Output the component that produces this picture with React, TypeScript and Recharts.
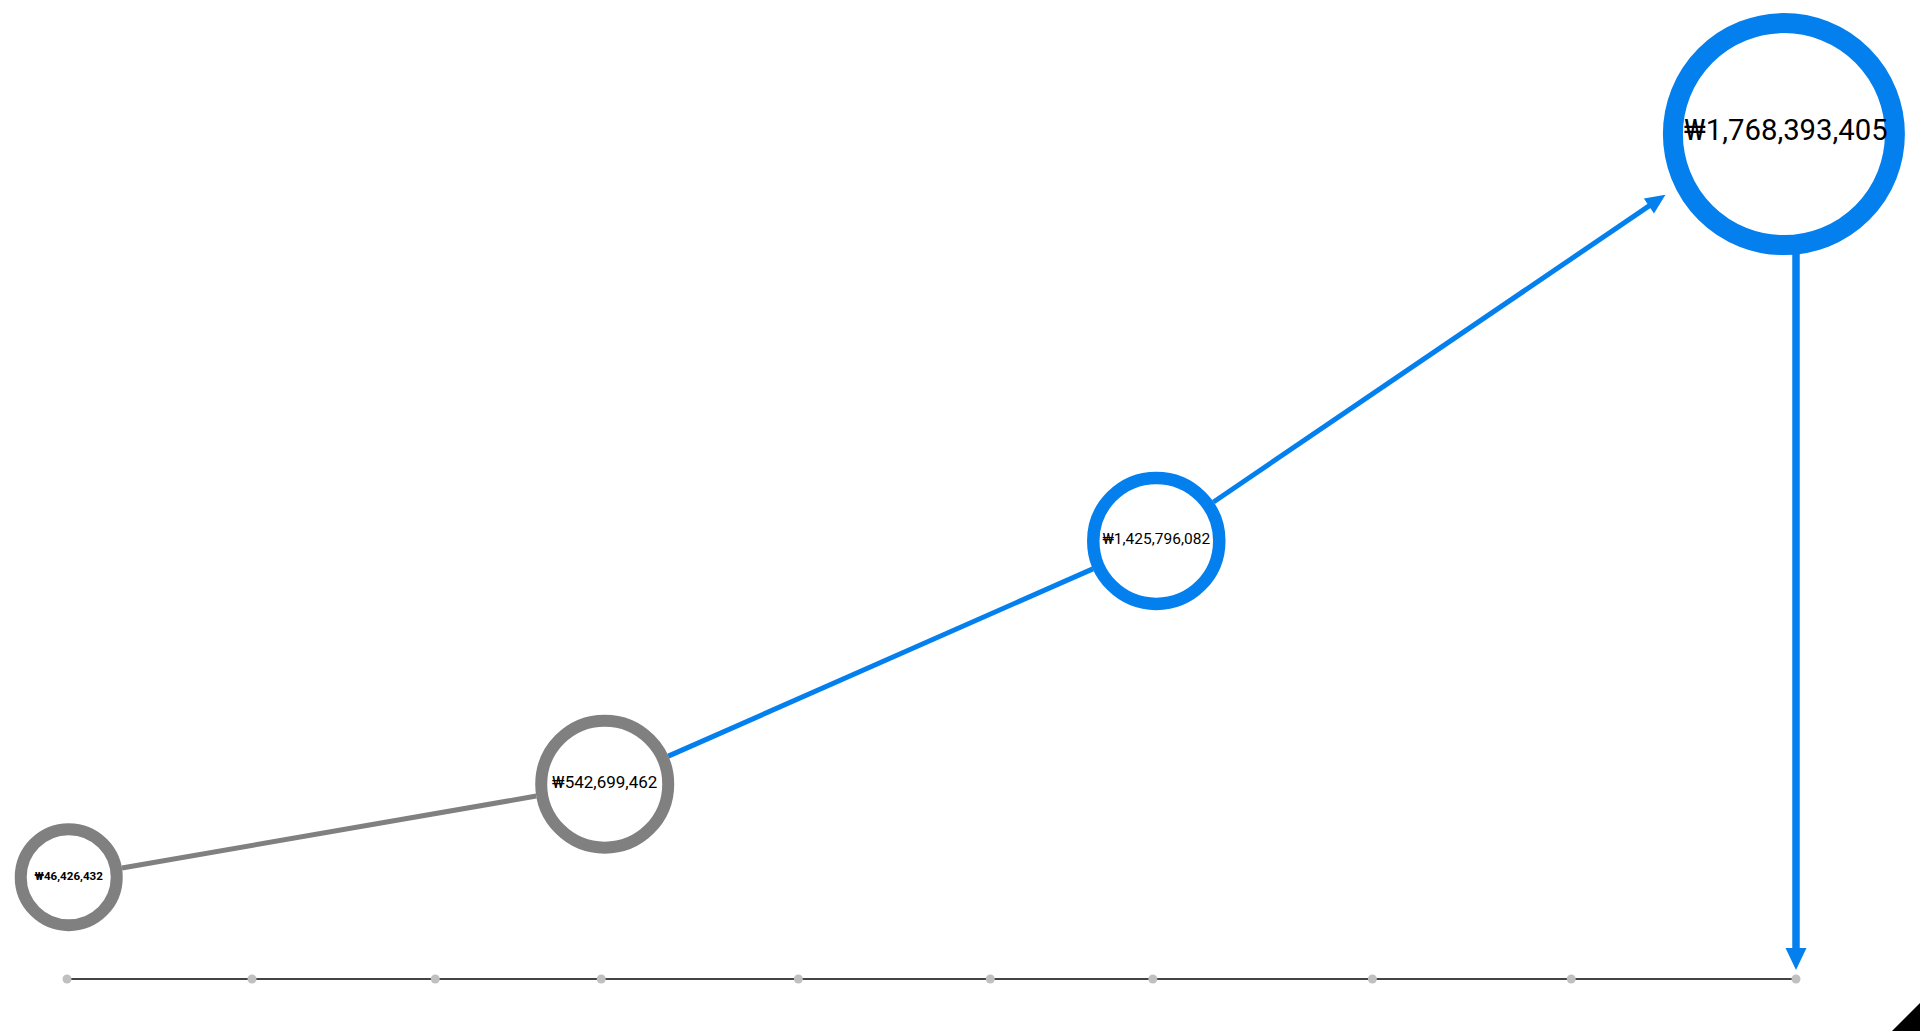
import { ComposedChart, XAxis, YAxis, Scatter, ReferenceLine } from "recharts";

// timeline ticks (percent of the axis span) and the four milestones
const tickPositions = [0, 10.7, 21.3, 30.9, 42.3, 53.4, 62.8, 75.5, 87.0, 100];
const pointX = [0.1, 31.1, 63.0, 99.3];
const pointLevel = [10.4, 19.9, 44.75, 86.3];
const pointValue = [46426432, 542699462, 1425796082, 1768393405];
// tip of the growth arrow and the x of the drop line
const arrowTip = { x: 92.45, y: 80.1 };
const arrowX = 100;

const GRAY = "#808080";
const BLUE = "#0480ee";

const ringStyles = [
  { r: 48, sw: 12, color: GRAY, font: 11.6, weight: 700 },
  { r: 63.5, sw: 12, color: GRAY, font: 17, weight: 400 },
  { r: 63, sw: 12.5, color: BLUE, font: 15.5, weight: 400 },
  { r: 111, sw: 20, color: BLUE, font: 29.3, weight: 400 },
];
const outer = (i: number) => ringStyles[i].r + ringStyles[i].sw / 2;

const points = pointX.map((x, i) => ({ x, y: pointLevel[i], value: pointValue[i], idx: i }));

const fmt = (v: number) => "₩" + v.toLocaleString("en-US");

function segment(startCut: number, endCut: number, color: string, width: number, head?: { len: number; half: number }) {
  return (props: any) => {
    const { x1, y1, x2, y2 } = props;
    const dx = x2 - x1;
    const dy = y2 - y1;
    const d = Math.hypot(dx, dy) || 1;
    const ux = dx / d;
    const uy = dy / d;
    const sx = x1 + ux * startCut;
    const sy = y1 + uy * startCut;
    const ex = x2 - ux * endCut;
    const ey = y2 - uy * endCut;
    if (!head) {
      return <line x1={sx} y1={sy} x2={ex} y2={ey} stroke={color} strokeWidth={width} />;
    }
    const bx = ex - ux * head.len;
    const by = ey - uy * head.len;
    const px = -uy;
    const py = ux;
    return (
      <g>
        <line x1={sx} y1={sy} x2={bx + ux * 2} y2={by + uy * 2} stroke={color} strokeWidth={width} />
        <polygon
          points={`${ex},${ey} ${bx + px * head.half},${by + py * head.half} ${bx - px * head.half},${by - py * head.half}`}
          fill={color}
        />
      </g>
    );
  };
}

function Ring(props: any) {
  const { cx, cy, payload } = props;
  const s = ringStyles[payload.idx];
  return (
    <g>
      <circle cx={cx} cy={cy} r={s.r} fill="#fff" stroke={s.color} strokeWidth={s.sw} />
      <text
        x={cx + (payload.idx === 3 ? 2 : 0)}
        y={cy + s.font * 0.2}
        textAnchor="middle"
        fontFamily="Roboto, sans-serif"
        fontSize={s.font}
        fontWeight={s.weight}
        fill="#000"
      >
        {fmt(payload.value)}
      </text>
    </g>
  );
}

function AxisDot(props: any) {
  return <circle cx={props.x} cy={props.y} r={4.5} fill="#c0c0c0" />;
}

export default function App() {
  return (
    <div style={{ position: "relative", width: 1920, height: 1031, overflow: "hidden", background: "#fff" }}>
      <style>{`html,body{margin:0;padding:0;overflow:hidden;}`}</style>
      <ComposedChart width={1920} height={1031} margin={{ top: 0, right: 124, bottom: 22, left: 67 }}>
        <XAxis
          type="number"
          dataKey="x"
          domain={[0, 100]}
          ticks={tickPositions}
          interval={0}
          tickLine={false}
          tickSize={0}
          tickMargin={0}
          axisLine={{ stroke: "#444", strokeWidth: 2 }}
          tick={<AxisDot />}
          height={30}
        />
        <YAxis type="number" dataKey="y" domain={[0, 100]} hide />
        <ReferenceLine
          segment={[{ x: pointX[0], y: pointLevel[0] }, { x: pointX[1], y: pointLevel[1] }]}
          ifOverflow="visible"
          shape={segment(outer(0), outer(1), GRAY, 5)}
        />
        <ReferenceLine
          segment={[{ x: pointX[1], y: pointLevel[1] }, { x: pointX[2], y: pointLevel[2] }]}
          ifOverflow="visible"
          shape={segment(outer(1), outer(2), BLUE, 5)}
        />
        <ReferenceLine
          segment={[{ x: pointX[2], y: pointLevel[2] }, arrowTip]}
          ifOverflow="visible"
          shape={segment(outer(2), 0, BLUE, 5, { len: 20, half: 9 })}
        />
        <ReferenceLine
          segment={[{ x: arrowX, y: pointLevel[3] }, { x: arrowX, y: 0 }]}
          ifOverflow="visible"
          shape={segment(outer(3) - 1, 9, BLUE, 7.5, { len: 22, half: 10.5 })}
        />
        <Scatter data={points} shape={<Ring />} isAnimationActive={false} />
      </ComposedChart>
      <div
        style={{
          position: "absolute",
          right: 0,
          bottom: 0,
          width: 0,
          height: 0,
          borderLeft: "28px solid transparent",
          borderBottom: "28px solid #000",
        }}
      />
    </div>
  );
}
